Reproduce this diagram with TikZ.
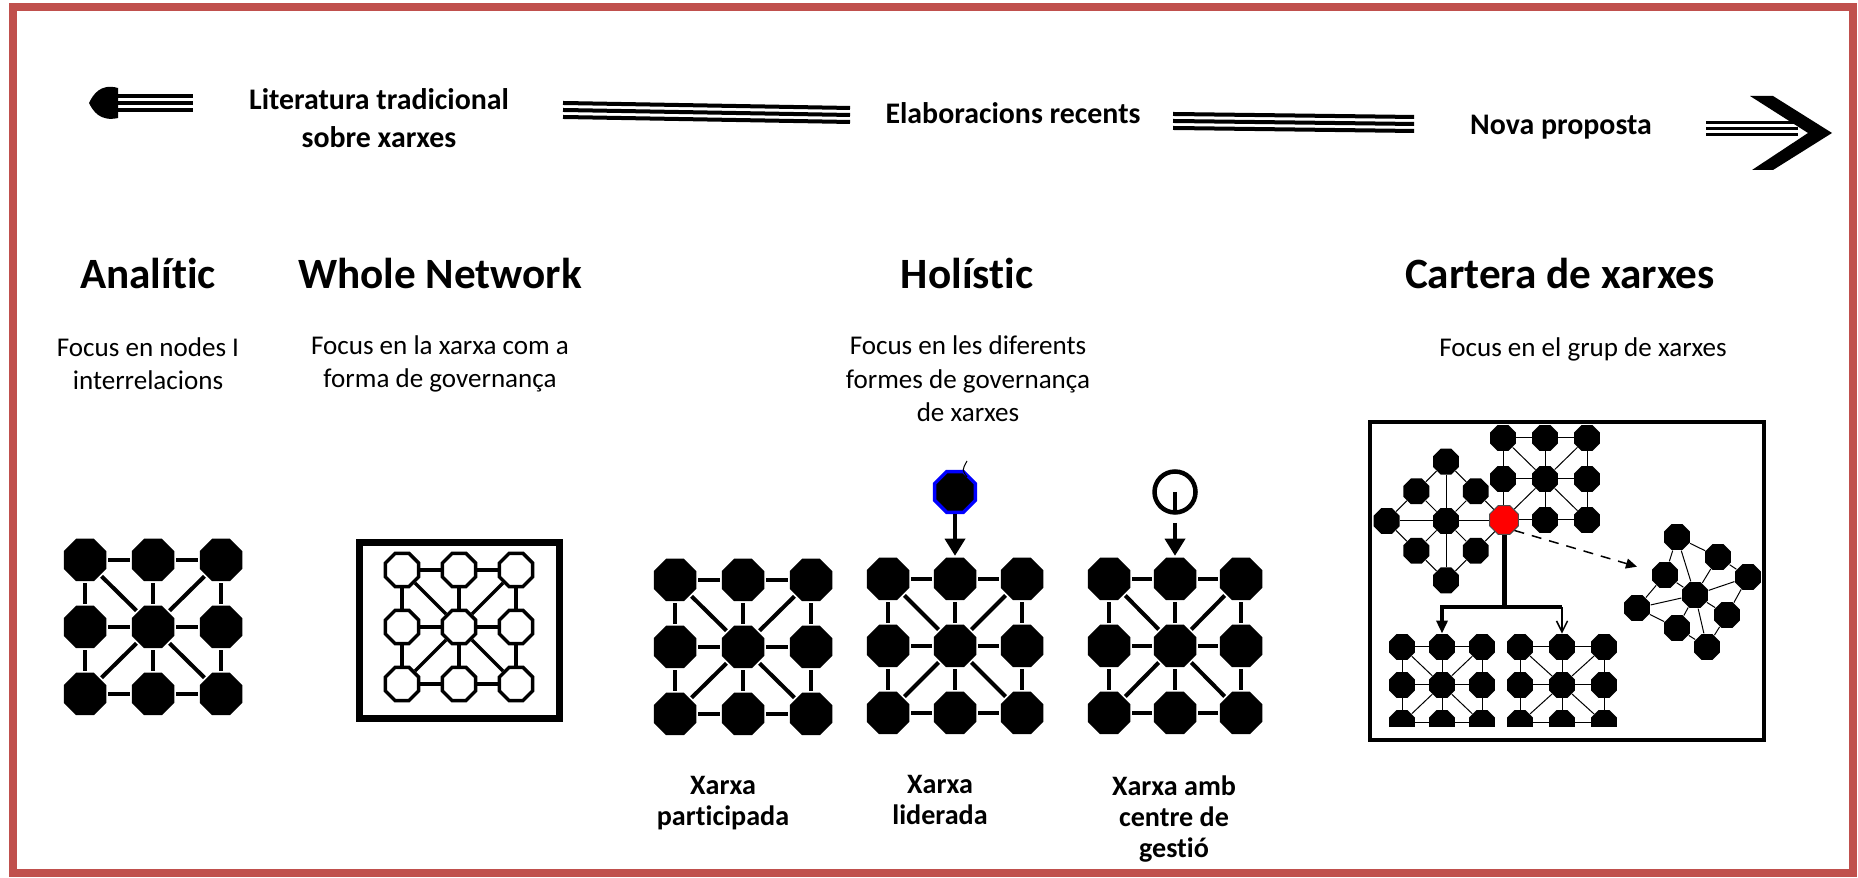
\documentclass[tikz,border=0pt]{standalone}
\usepackage{fontspec}
\setmainfont{Carlito}[Ligatures={NoCommon,NoRare}]
\usetikzlibrary{shapes.geometric}
\usetikzlibrary{arrows.meta}
\usetikzlibrary{positioning}
\definecolor{vora}{RGB}{192,80,77}
\tikzstyle{nodenet} = [regular polygon, regular polygon sides=8, fill=black,
    inner sep=0pt, minimum size=4.6mm]
\tikzstyle{nodeopen} = [regular polygon, regular polygon sides=8, draw, fill=white,
    line width=0.35mm, inner sep=0pt, minimum size=3.6mm]
\tikzstyle{nodesmall} = [regular polygon, regular polygon sides=8, fill=black,
    inner sep=0pt, minimum size=2.8mm]
\tikzstyle{titol} = [font=\fontsize{12.3}{14}\selectfont\bfseries, anchor=base]
\tikzstyle{focus} = [font=\fontsize{7.7}{9.5}\selectfont, align=center]
\tikzstyle{etapa} = [font=\fontsize{8.5}{10.8}\selectfont\bfseries, align=center]
\tikzstyle{tipus} = [font=\fontsize{8}{8.9}\selectfont\bfseries, align=center]
\tikzstyle{tline} = [line width=0.4mm]
% 3x3 grid with the two diagonals, nodes named <name><col><row>
\newcommand{\xarxa}[4]{%
  \foreach \i in {1,2,3} \foreach \j in {1,2,3}
    \node[#4] (#1\i\j) at ({(\i-2)*#2},{(\j-2)*#3}) {};
  \foreach \j in {1,2,3} {
    \draw (#11\j) -- (#12\j) -- (#13\j);
    \draw (#1\j1) -- (#1\j2) -- (#1\j3);
  }
  \foreach \i in {1,3} \foreach \j in {1,3}
    \draw (#1\i\j) -- (#122);
}

\begin{document}
\begin{tikzpicture}[x=0.1mm, y=-0.1mm, >={Triangle[width=2mm,length=1.7mm]}]
    \useasboundingbox (0,0) rectangle (1858,878);
    \draw[vora, line width=0.8mm] (12.6,7) rectangle (1853,873);

    % timeline
    \fill (118,88) .. controls (100,83) and (93,95) .. (89,103)
          .. controls (93,111) and (100,122) .. (118,118) -- cycle;
    \foreach \d in {-7,0,7} \draw[tline] (118,{103+\d}) -- (193,{103+\d});
    \node[etapa] (literatura) at (379,118) {Literatura tradicional\\sobre xarxes};
    \foreach \d in {-7,0,7} \draw[tline] (563,{110+\d}) -- (850,{115+\d});
    \node[etapa, anchor=base] (elaboracions) at (1013,124) {Elaboracions recents};
    \foreach \d in {-7,0,7} \draw[tline] (1173,{121+\d}) -- (1414,{124+\d});
    \node[etapa, anchor=base] (nova) at (1561,135) {Nova proposta};
    \foreach \d in {-6,0,6} \draw[line width=0.3mm] (1706,{129+\d}) -- (1798,{129+\d});
    \fill (1750,96) -- (1773,96) -- (1832,133) -- (1773,170) -- (1752,170) -- (1808,133) -- cycle;

    % headings
    \node[titol] (analitic) at (148,289) {Analític};
    \node[titol] (whole) at (440,289) {Whole Network};
    \node[titol] (holistic) at (967,289) {Holístic};
    \node[titol] (cartera) at (1560,289) {Cartera de xarxes};
    \node[focus] (fanalitic) at (148,364) {Focus en nodes I\\interrelacions};
    \node[focus] (fwhole) at (440,364) {Focus en la xarxa com a\\forma de governança};
    \node[focus] (fholistic) at (968,379) {Focus en les diferents\\formes de governança\\de xarxes};
    \node[focus] (fcartera) at (1583,349) {Focus en el grup de xarxes};

    % Analitic
    \begin{scope}[shift={(153,627)}, line width=0.4mm]
        \xarxa{an}{68}{67}{nodenet}
    \end{scope}

    % Whole network
    \draw[line width=0.7mm] (359,543) rectangle (559,719);
    \begin{scope}[shift={(459,627)}, line width=0.35mm]
        \xarxa{wn}{57}{57}{nodeopen}
    \end{scope}

    % Holistic
    \begin{scope}[shift={(743,647)}, line width=0.4mm]
        \xarxa{pa}{68}{67}{nodenet}
    \end{scope}
    \begin{scope}[shift={(955,646)}, line width=0.4mm]
        \xarxa{li}{67}{67}{nodenet}
    \end{scope}
    \begin{scope}[shift={(1175,646)}, line width=0.4mm]
        \xarxa{ge}{66}{67}{nodenet}
    \end{scope}
    \node[nodenet, draw=blue, line width=0.35mm, minimum size=4.4mm] (lider) at (955,492) {};
    \draw[line width=0.1mm] (967,477) .. controls (962,470) .. (967,461);
    \draw[->, line width=0.35mm] (lider) -- (li21);
    \node[circle, draw, fill=white, line width=0.45mm, inner sep=0pt, minimum size=4.1mm] (gestor) at (1175,492) {};
    \draw[->, line width=0.35mm, dash pattern=on 1.9mm off 1.2mm] (gestor.center) -- (ge21);
    \node[tipus] (participada) at (723,803) {Xarxa\\participada};
    \node[tipus] (liderada) at (940,800) {Xarxa\\liderada};
    \node[tipus] (gestio) at (1174,819) {Xarxa amb\\centre de\\gestió};

    % Cartera de xarxes
    \draw[line width=0.45mm] (1370,422) rectangle (1764,740);
    \begin{scope}[shift={(1545,479)}, line width=0.1mm]
        \xarxa{ca}{42}{41}{nodesmall}
    \end{scope}
    \begin{scope}[shift={(1446,521)}, rotate=45, line width=0.1mm]
        \xarxa{cb}{42}{42}{nodesmall}
    \end{scope}
    \begin{scope}
        \clip (1370,422) rectangle (1764,727);
        \begin{scope}[shift={(1442,685)}, line width=0.1mm]
            \xarxa{cc}{40}{38}{nodesmall}
        \end{scope}
        \begin{scope}[shift={(1562,685)}, line width=0.1mm]
            \xarxa{cd}{42}{38}{nodesmall}
        \end{scope}
    \end{scope}
    \node[nodesmall, fill=red, draw=black!70, line width=0.1mm, minimum size=3.1mm] (hub) at (1504,520) {};
    \node[nodesmall] (cr1) at (1677,537) {};
    \node[nodesmall] (cr2) at (1718,557) {};
    \node[nodesmall] (cr3) at (1748,577) {};
    \node[nodesmall] (cr4) at (1665,575) {};
    \node[nodesmall] (cr5) at (1695,595) {};
    \node[nodesmall] (cr6) at (1637,608) {};
    \node[nodesmall] (cr7) at (1727,615) {};
    \node[nodesmall] (cr8) at (1677,628) {};
    \node[nodesmall] (cr9) at (1707,647) {};
    \foreach \a/\b in {cr1/cr2, cr2/cr3, cr3/cr7, cr7/cr9, cr9/cr8, cr8/cr6, cr6/cr4, cr4/cr1,
        cr5/cr1, cr5/cr2, cr5/cr3, cr5/cr4, cr5/cr6, cr5/cr7, cr5/cr8, cr5/cr9}
        \draw[line width=0.1mm] (\a) -- (\b);
    \draw[line width=0.15mm, dash pattern=on 1mm off 0.8mm, -{Triangle[width=1mm,length=1.1mm]},
        shorten >=1.5mm] (hub.-45) -- (cr4);
    \coordinate (cruilla) at (1504,607);
    \draw[line width=0.5mm] (hub) -- (cruilla);
    \draw[line width=0.42mm, -{Triangle[width=1.1mm,length=1.3mm]}] (cruilla) -| (cc21);
    \draw[line width=0.42mm] (cruilla) -- (cruilla -| cd21);
    \draw[line width=0.15mm, -{Straight Barb[width=1.1mm,length=1.1mm]}] (cruilla -| cd21) -- (cd21);
\end{tikzpicture}
\end{document}
